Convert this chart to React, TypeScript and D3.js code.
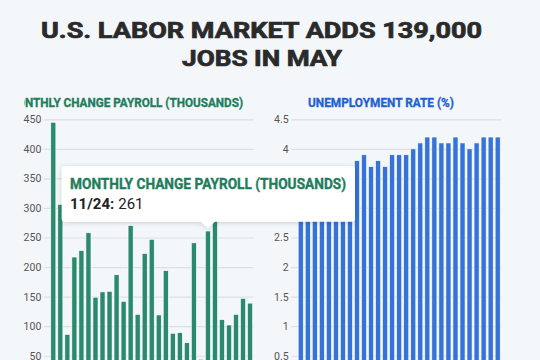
import { useEffect, useRef } from "react";
import * as d3 from "d3";

const months = [
  "1/23", "2/23", "3/23", "4/23", "5/23", "6/23", "7/23", "8/23", "9/23", "10/23",
  "11/23", "12/23", "1/24", "2/24", "3/24", "4/24", "5/24", "6/24", "7/24", "8/24",
  "9/24", "10/24", "11/24", "12/24", "1/25", "2/25", "3/25", "4/25", "5/25",
];
const payroll = [
  445, 306, 86, 217, 228, 258, 149, 158, 159, 187, 142, 270, 120, 223, 247, 119,
  194, 88, 89, 72, 241, 44, 261, 307, 111, 102, 120, 147, 139,
];
const unemployment = [
  3.4, 3.6, 3.5, 3.4, 3.7, 3.6, 3.5, 3.6, 3.8, 3.9, 3.7, 3.8, 3.7, 3.9, 3.9, 3.9,
  4.0, 4.1, 4.2, 4.2, 4.1, 4.1, 4.2, 4.1, 4.0, 4.1, 4.2, 4.2, 4.2,
];
// the 0 ticks fall below the visible frame
const payrollTicks = [50, 100, 150, 200, 250, 300, 350, 400, 450];
const rateTicks = [0.5, 1, 1.5, 2, 2.5, 3, 3.5, 4, 4.5];
const tooltipIndex = 22;

const FONT = "Roboto, 'Liberation Sans', sans-serif";

const App = () => {
  const svgRef = useRef(null);

  useEffect(() => {
    if (!svgRef.current) return;
    d3.select(svgRef.current).selectAll("*").remove();

    const svg = d3.select(svgRef.current);
    const yTop = 119.3;
    const yZero = 385.3;

    svg.append("rect").attr("width", 540).attr("height", 360).attr("fill", "#f4f7fa");

    // title (stroke thickens the bold face a bit)
    const title = svg
      .append("text")
      .attr("text-anchor", "middle")
      .attr("font-family", FONT)
      .attr("font-weight", 700)
      .attr("font-size", 22)
      .attr("fill", "#2a2a2a")
      .attr("stroke", "#2a2a2a")
      .attr("stroke-width", 0.7);
    title.append("tspan").attr("x", 261.5).attr("y", 37.5)
      .attr("textLength", 441).attr("lengthAdjust", "spacingAndGlyphs")
      .text("U.S. LABOR MARKET ADDS 139,000");
    title.append("tspan").attr("x", 262).attr("y", 65.7)
      .attr("textLength", 160).attr("lengthAdjust", "spacingAndGlyphs")
      .text("JOBS IN MAY");

    const panel = (
      values: number[],
      ticks: number[],
      max: number,
      x0: number,
      x1: number,
      color: string,
    ) => {
      const x = d3.scaleBand().domain(months).range([x0, x1]).paddingInner(0.28).paddingOuter(0.14);
      const y = d3.scaleLinear().domain([0, max]).range([yZero, yTop]);
      const g = svg.append("g");
      const axis = d3.axisLeft(y).tickValues(ticks).tickSize(-(x1 - x0 + 6)).tickFormat((d: any) => `${d}`);
      const ag = g.append("g").attr("transform", `translate(${x0 - 6},0)`).call(axis);
      ag.select(".domain").remove();
      ag.selectAll(".tick line").attr("stroke", "#dcdfe3").attr("stroke-width", 1.2);
      ag.selectAll(".tick text")
        .attr("x", -2.5)
        .attr("font-family", FONT)
        .attr("font-size", 10.5)
        .attr("fill", "#555");
      g.selectAll(".bar")
        .data(values)
        .enter()
        .append("rect")
        .attr("x", (_d, i) => x(months[i]) as number)
        .attr("y", (d) => y(d))
        .attr("width", x.bandwidth())
        .attr("height", (d) => y(0) - y(d))
        .attr("fill", color)
        .attr("stroke", "#ffffff")
        .attr("stroke-width", 0.6);
      return x;
    };

    const xLeft = panel(payroll, payrollTicks, 450, 49.8, 253.6, "#2b8a6d");
    panel(unemployment, rateTicks, 4.5, 297.2, 501.2, "#3673d8");

    // panel titles; the left one runs past the panel edge and is cut there
    const clip = svg.append("clipPath").attr("id", "leftclip");
    clip.append("rect").attr("x", 24.5).attr("y", 90).attr("width", 250).attr("height", 30);
    const lt = svg.append("text")
      .attr("clip-path", "url(#leftclip)")
      .attr("x", 243).attr("y", 106.7)
      .attr("text-anchor", "end")
      .attr("font-family", FONT)
      .attr("font-weight", 700)
      .attr("font-size", 13)
      .attr("fill", "#1f7d5c")
      .attr("stroke", "#1f7d5c")
      .attr("stroke-width", 0.35)
      .text("MONTHLY CHANGE PAYROLL (THOUSANDS)");
    const ltNode: any = lt.node();
    const full = ltNode.getComputedTextLength();
    const prefix = ltNode.getSubStringLength(0, 2);
    lt.attr("textLength", (full * 218) / (full - prefix)).attr("lengthAdjust", "spacingAndGlyphs");

    svg.append("text")
      .attr("x", 308).attr("y", 106.7)
      .attr("font-family", FONT)
      .attr("font-weight", 700)
      .attr("font-size", 13)
      .attr("textLength", 146).attr("lengthAdjust", "spacingAndGlyphs")
      .attr("fill", "#1f5fd6")
      .attr("stroke", "#1f5fd6")
      .attr("stroke-width", 0.35)
      .text("UNEMPLOYMENT RATE (%)");

    // tooltip
    const px = (xLeft(months[tooltipIndex]) as number) + xLeft.bandwidth() / 2;
    const tx0 = 61.7, tx1 = 355, ty0 = 166, ty1 = 221.7;
    const defs = svg.append("defs");
    const f = defs.append("filter").attr("id", "shadow").attr("x", "-10%").attr("y", "-30%").attr("width", "120%").attr("height", "160%");
    f.append("feDropShadow").attr("dx", 0).attr("dy", 1).attr("stdDeviation", 2.5).attr("flood-color", "#000").attr("flood-opacity", 0.18);
    const path = d3.path();
    path.moveTo(tx0 + 3, ty0);
    path.lineTo(tx1 - 3, ty0);
    path.quadraticCurveTo(tx1, ty0, tx1, ty0 + 3);
    path.lineTo(tx1, ty1 - 3);
    path.quadraticCurveTo(tx1, ty1, tx1 - 3, ty1);
    path.lineTo(px + 7, ty1);
    path.lineTo(px, ty1 + 6.5);
    path.lineTo(px - 7, ty1);
    path.lineTo(tx0 + 3, ty1);
    path.quadraticCurveTo(tx0, ty1, tx0, ty1 - 3);
    path.lineTo(tx0, ty0 + 3);
    path.quadraticCurveTo(tx0, ty0, tx0 + 3, ty0);
    path.closePath();
    svg.append("path").attr("d", path.toString()).attr("fill", "#ffffff").attr("filter", "url(#shadow)");

    svg.append("text")
      .attr("x", 70).attr("y", 189.3)
      .attr("font-family", FONT)
      .attr("font-weight", 700)
      .attr("font-size", 15.5)
      .attr("textLength", 276).attr("lengthAdjust", "spacingAndGlyphs")
      .attr("fill", "#1f7d5c")
      .attr("stroke", "#1f7d5c")
      .attr("stroke-width", 0.4)
      .text("MONTHLY CHANGE PAYROLL (THOUSANDS)");
    const line2 = svg.append("text")
      .attr("x", 70).attr("y", 209)
      .attr("font-family", FONT)
      .attr("font-size", 15)
      .attr("fill", "#222");
    line2.append("tspan").attr("font-weight", 700).text(`${months[tooltipIndex]}:`);
    line2.append("tspan").attr("dx", 4).text(`${payroll[tooltipIndex]}`);
  }, []);

  return (
    <svg
      ref={svgRef}
      width={540}
      height={360}
      style={{ position: "absolute", left: 0, top: 0 }}
    />
  );
};

export default App;
